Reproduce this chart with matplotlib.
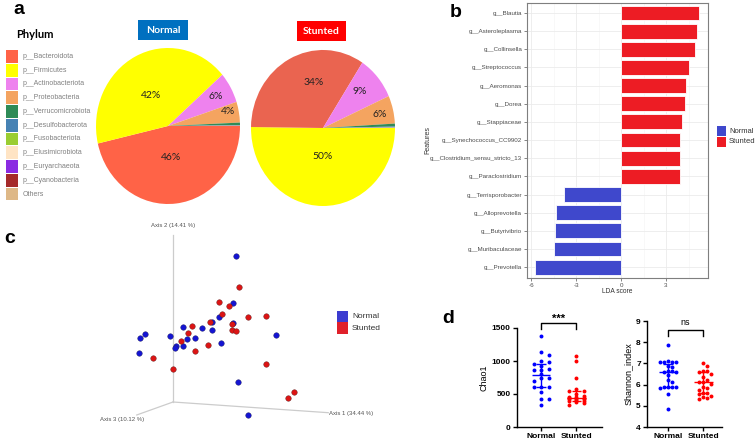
import matplotlib
matplotlib.use('Agg')
import matplotlib.pyplot as plt
from matplotlib.patches import Rectangle
import numpy as np

plt.rcParams['axes.unicode_minus'] = False

# ---------------- data ----------------
phyla = ['p__Bacteroidota', 'p__Firmicutes', 'p__Actinobacteriota', 'p__Proteobacteria',
         'p__Verrucomicrobiota', 'p__Desulfobacterota', 'p__Fusobacteriota',
         'p__Elusimicrobiota', 'p__Euryarchaeota', 'p__Cyanobacteria', 'Others']
phylum_colors = ['#FF6347', '#FFFF00', '#EE82EE', '#F4A460', '#2E8B57', '#4682B4',
                 '#9ACD32', '#FFE4C4', '#8A2BE2', '#A52A2A', '#DEB887']
normal_pct = [46.4, 42.2, 6.4, 4.3, 0.5, 0.1, 0.03, 0.02, 0.02, 0.02, 0.01]
stunted_pct = [34.0, 50.2, 9.1, 5.8, 0.6, 0.15, 0.05, 0.03, 0.03, 0.02, 0.02]

genera = ['g__Blautia', 'g__Asteroleplasma', 'g__Collinsella', 'g__Streptococcus',
          'g__Aeromonas', 'g__Dorea', 'g__Stappiaceae', 'g__Synechococcus_CC9902',
          'g__Clostridium_sensu_stricto_13', 'g__Paraclostridium', 'g__Terrisporobacter',
          'g__Alloprevotella', 'g__Butyrivibrio', 'g__Muribaculaceae', 'g__Prevotella']
lda_score = [5.20, 5.05, 4.93, 4.51, 4.31, 4.27, 4.07, 3.96, 3.93, 3.91,
             -3.78, -4.36, -4.38, -4.47, -5.71]
lda_ticks = [-6, -3, 0, 3]

# PCoA (projected screen coordinates of the 3D view)
pcoa_normal_x = [236.3, 233.3, 219.0, 212.3, 233.0, 202.3, 212.3, 182.7, 145.0, 140.3, 170.0,
                 195.3, 186.7, 176.0, 183.3, 220.7, 138.7, 276.3, 237.7, 248.0, 175.0]
pcoa_normal_y = [255.7, 303.3, 316.7, 321.7, 323.0, 328.0, 330.3, 327.3, 333.7, 338.3, 336.0,
                 338.0, 339.3, 346.0, 345.7, 342.7, 353.0, 335.0, 382.0, 414.7, 347.7]
pcoa_stunted_x = [238.7, 218.7, 229.3, 222.0, 210.0, 192.3, 187.7, 180.7, 231.7, 232.3, 235.7,
                  248.0, 265.7, 208.3, 195.3, 153.0, 172.7, 266.0, 293.7, 287.7]
pcoa_stunted_y = [287.0, 302.0, 306.0, 314.0, 322.0, 325.7, 333.0, 341.0, 324.0, 330.0, 331.0,
                  317.3, 316.3, 345.0, 351.3, 357.7, 369.0, 364.3, 392.3, 398.3]
pcoa_axis_labels = ['Axis 1 (34.44 %)', 'Axis 2 (14.41 %)', 'Axis 3 (10.12 %)']

groups = ['Normal', 'Stunted']
chao1_normal = [1385, 1140, 1090, 1000, 990, 960, 930, 880, 870, 870, 800, 740, 740, 700,
                610, 610, 600, 525, 420, 420, 330]
chao1_stunted = [1075, 1000, 750, 580, 550, 540, 500, 475, 460, 450, 440, 440, 430, 420,
                 420, 410, 400, 390, 380, 360, 330]
chao1_center = [790, 445]
chao1_low = [600, 400]
chao1_high = [960, 540]
shannon_normal = [7.88, 7.13, 7.05, 7.05, 7.05, 7.05, 6.90, 6.85, 6.65, 6.65, 6.60, 6.60,
                  6.45, 6.20, 6.10, 5.90, 5.88, 5.87, 5.86, 5.90, 5.55, 4.87]
shannon_stunted = [7.03, 6.89, 6.66, 6.66, 6.58, 6.51, 6.34, 6.20, 6.12, 6.12, 6.05, 5.90,
                   5.85, 5.75, 5.62, 5.62, 5.55, 5.48, 5.43, 5.35, 5.32]
shannon_center = [6.60, 6.10]
shannon_low = [5.90, 5.60]
shannon_high = [6.95, 6.58]

# ---------------- figure ----------------
W, H = 755, 441
fig = plt.figure(figsize=(W / 100, H / 100), dpi=100)


def ax_px(l, t, w, h, **kw):
    return fig.add_axes([l / W, 1 - (t + h) / H, w / W, h / H], **kw)


over = ax_px(0, 0, W, H)
over.set_xlim(0, W)
over.set_ylim(H, 0)
over.axis('off')
over.set_zorder(5)

ARIAL = 'Liberation Sans'
CAL = 'Lato'

# panel letters
for letter, x, y in [('a', 13, 14), ('b', 450, 17), ('c', 4, 243), ('d', 442, 323)]:
    over.text(x, y, letter, fontsize=14, fontweight='bold', family=ARIAL, ha='left', va='baseline')

# ---------------- panel a ----------------
over.text(16, 34, 'Phylum', fontsize=8, fontweight='bold', family=CAL, ha='left', va='center')
for i, (name, col) in enumerate(zip(phyla, phylum_colors)):
    y0 = 50 + i * 13.76
    over.add_patch(Rectangle((6, y0), 12, 12.8, color=col, lw=0))
    over.text(23, y0 + 6.4, name, fontsize=5, family=ARIAL, color='#808080', ha='left', va='center')


def draw_pie(cx, cy, vals, title, title_color, box, dists, shifts, bact_color):
    rx, ry = 72, 78
    ax = ax_px(cx - 1.1 * rx, cy - 1.1 * ry, 2.2 * rx, 2.2 * ry)
    order = np.argsort(vals)[::-1]
    v = [vals[i] for i in order]
    cols = [phylum_colors[i] for i in order]
    cols = [bact_color if c == phylum_colors[0] else c for c in cols]
    wedges, _ = ax.pie(v, colors=cols, startangle=0, counterclock=False, radius=1,
                       wedgeprops=dict(linewidth=0))
    ax.set_aspect('auto')
    ax.set_xlim(-1.1, 1.1)
    ax.set_ylim(-1.1, 1.1)
    for k in range(4):
        w = wedges[k]
        ang = np.deg2rad((w.theta1 + w.theta2) / 2 + shifts[k])
        ax.text(dists[k] * np.cos(ang), dists[k] * np.sin(ang), f'{round(v[k]):d}%',
                fontsize=7.5, family=CAL, ha='center', va='center', color='#222222')
    bx, by, bw, bh = box
    over.add_patch(Rectangle((bx, by), bw, bh, color=title_color, lw=0))
    over.text(bx + bw / 2, by + bh / 2 + 0.5, title, fontsize=7.5, fontweight='bold', family=CAL,
              color='white', ha='center', va='center')


draw_pie(168, 126, normal_pct, 'Normal', '#0070C0', (138, 20, 50, 20),
         [0.41, 0.45, 0.76, 0.85], [0, 4, 0, 2], '#FF6347')
draw_pie(323, 128, stunted_pct, 'Stunted', '#FF0000', (297, 21, 49, 20),
         [0.36, 0.6, 0.7, 0.8], [0, -16, 2, -1], '#EA6450')

# ---------------- panel b ----------------
axb = ax_px(527, 3, 181, 275)
n = len(genera)
ypos = np.arange(n)[::-1]
bar_cols = ['#ED1C24' if s > 0 else '#3F48CC' for s in lda_score]
axb.set_axisbelow(True)
axb.barh(ypos, lda_score, height=0.82, color=bar_cols, edgecolor='white', linewidth=0.6)
axb.set_xlim(-6.27, 5.8)
axb.set_ylim(-0.6, n - 1 + 0.55)
axb.set_yticks(ypos)
axb.set_yticklabels(genera)
axb.set_xticks(lda_ticks)
axb.set_xticks([-4.5, -1.5, 1.5, 4.5], minor=True)
axb.grid(which='major', color='#EBEBEB', lw=0.6)
axb.grid(which='minor', axis='x', color='#F3F3F3', lw=0.4)
axb.tick_params(which='major', length=2, width=0.5, color='#555555', labelsize=4.5,
                labelcolor='#4D4D4D', pad=1.5)
axb.tick_params(which='minor', length=0)
for lab in axb.get_xticklabels() + axb.get_yticklabels():
    lab.set_family(ARIAL)
for sp in axb.spines.values():
    sp.set_color('#7F7F7F')
    sp.set_linewidth(0.8)
over.text(428, 140, 'Features', rotation=90, fontsize=5, family=ARIAL, color='#333333',
          ha='center', va='center')
over.text(617, 291.5, 'LDA score', fontsize=4.8, family=ARIAL, color='#333333', ha='center',
          va='center')
for i, (g, col) in enumerate(zip(groups, ['#3F48CC', '#ED1C24'])):
    over.add_patch(Rectangle((716.7, 126.3 + i * 10.5), 9, 9.8, color=col, lw=0))
    over.text(729, 131.2 + i * 10.5, g, fontsize=5.5, family=ARIAL, color='#333333',
              ha='left', va='center')

# ---------------- panel c ----------------
axc = ax_px(0, 220, 420, 221)
axc.set_xlim(0, 420)
axc.set_ylim(441, 220)
axc.axis('off')
ox, oy = 173, 402
axc.plot([ox, ox], [oy, 235], color='#CCCCCC', lw=0.9)
axc.plot([ox, 328.3], [oy, 412.7], color='#CCCCCC', lw=0.9)
axc.plot([ox, 136.7], [oy, 415], color='#CCCCCC', lw=0.9)
axc.text(350.8, 414, pcoa_axis_labels[0], fontsize=4.3, family=ARIAL, color='#555555',
         ha='center', va='center')
axc.text(172.7, 226, pcoa_axis_labels[1], fontsize=4.3, family=ARIAL, color='#555555',
         ha='center', va='center')
axc.text(121.7, 419, pcoa_axis_labels[2], fontsize=4.3, family=ARIAL, color='#555555',
         ha='center', va='center')
axc.scatter(pcoa_normal_x, pcoa_normal_y, s=16, color='#1414D2', edgecolors='#202060',
            linewidths=0.3, zorder=3)
axc.scatter(pcoa_stunted_x, pcoa_stunted_y, s=16, color='#DC1414', edgecolors='#602020',
            linewidths=0.3, zorder=3)
for i, (g, col) in enumerate(zip(groups, ['#3C3CD0', '#E0202A'])):
    over.add_patch(Rectangle((337, 311 + i * 11.3), 11, 11.3, color=col, lw=0))
    over.text(352, 316.8 + i * 11.3, g, fontsize=6, family=ARIAL, color='#333333',
              ha='left', va='center')


# ---------------- panel d ----------------
def swarm(ax, center, values, step_px, max_k, min_dist):
    disp = ax.transData.transform(np.column_stack([np.full(len(values), center),
                                                   np.asarray(values, float)]))
    x0 = disp[0, 0]
    ys = disp[:, 1]
    xs = np.full(len(values), x0)
    placed = []
    order = np.argsort(-ys)
    offs = [0]
    for k in range(1, max_k + 1):
        offs += [k, -k]
    for i in order:
        best, best_d = None, -1
        for k in offs:
            cx = x0 + k * step_px
            d = min([np.hypot(cx - px, ys[i] - py) for px, py in placed] or [1e9])
            if d >= min_dist:
                best = cx
                break
            if d > best_d:
                best, best_d = cx, d
        xs[i] = best
        placed.append((best, ys[i]))
    back = ax.transData.inverted().transform(np.column_stack([xs, ys]))
    return back[:, 0]


def dot_panel(rect, ylim, yticks, ylabel, series, centers, lows, highs, xlim, bracket, sig,
              sig_size, step, max_k):
    ax = ax_px(*rect)
    ax.set_xlim(*xlim)
    ax.set_ylim(*ylim)
    cols = ['#0000FF', '#FF0000']
    for j, (vals, col) in enumerate(zip(series, cols)):
        xs = swarm(ax, j + 1, vals, step, max_k, 3.6)
        ax.scatter(xs, vals, s=8, color=col, lw=0, zorder=3, clip_on=False)
        ax.hlines(centers[j], j + 1 - 0.27, j + 1 + 0.27, color=col, lw=1, zorder=4)
        ax.hlines([lows[j], highs[j]], j + 1 - 0.13, j + 1 + 0.13, color=col, lw=1, zorder=4)
        ax.vlines(j + 1, lows[j], highs[j], color=col, lw=1, zorder=4)
    for s in ['top', 'right']:
        ax.spines[s].set_visible(False)
    for s in ['left', 'bottom']:
        ax.spines[s].set_linewidth(1.0)
    ax.set_yticks(yticks)
    ax.set_xticks([1, 2])
    ax.set_xticklabels(groups)
    ax.tick_params(length=3, width=1, labelsize=6, pad=1.5)
    for lab in ax.get_xticklabels() + ax.get_yticklabels():
        lab.set_family(ARIAL)
        lab.set_fontweight('bold')
    ax.set_ylabel(ylabel, fontsize=6.5, family=ARIAL, labelpad=2)
    top, leg, txt = bracket
    ax.plot([1, 1, 2, 2], [leg, top, top, leg], color='black', lw=1, clip_on=False)
    ax.text(1.5, txt, sig, fontsize=sig_size, family=ARIAL, ha='center', va='center',
            fontweight='bold' if sig == '***' else 'normal')
    return ax


dot_panel((517, 328, 85, 99), (0, 1500), [0, 500, 1000, 1500], 'Chao1',
          [chao1_normal, chao1_stunted], chao1_center, chao1_low, chao1_high,
          (0.314, 2.74), (1576, 1485, 1640), '***', 8, 7.5, 1)
dot_panel((647, 321, 75, 106), (4, 9), [4, 5, 6, 7, 8, 9], 'Shannon_index',
          [shannon_normal, shannon_stunted], shannon_center, shannon_low, shannon_high,
          (0.4, 2.54), (8.58, 8.29, 8.95), 'ns', 6.5, 4.2, 2)

fig.savefig('out.png', dpi=100)
